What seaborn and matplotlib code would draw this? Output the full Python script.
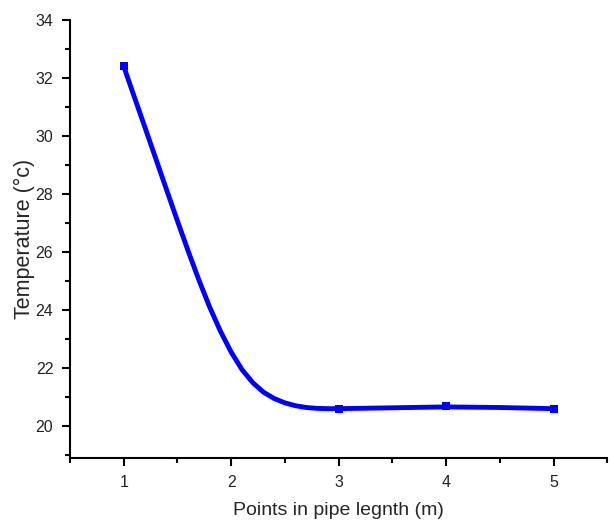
import matplotlib
matplotlib.use("Agg")
import matplotlib.pyplot as plt
from matplotlib.ticker import MultipleLocator
import pandas as pd
import seaborn as sns


# measured points (square markers)
points_x = [1, 3, 4, 5]
points_y = [32.4, 20.6, 20.7, 20.6]

# smooth curve
curve_x = [1.0, 1.1, 1.2, 1.3, 1.4, 1.5, 1.6, 1.7, 1.8, 1.9, 2.0, 2.1, 2.2, 2.3, 2.4,
           2.5, 2.6, 2.7, 2.8, 2.9, 3.0, 3.5, 4.0, 4.5, 5.0]
curve_y = [32.4, 31.33, 30.27, 29.2, 28.13, 27.07, 26.03, 25.03, 24.1, 23.27, 22.55,
           21.95, 21.5, 21.17, 20.95, 20.8, 20.7, 20.64, 20.61, 20.6, 20.6,
           20.63, 20.66, 20.64, 20.6]

x_label = "Points in pipe legnth (m)"
y_label = "Temperature (°c)"


#----------------------------------------------------------------------------------------------------
sns.set_theme(style="ticks")
plt.rcParams["font.family"] = ["Liberation Sans", "DejaVu Sans"]

points = pd.DataFrame({"x": points_x, "y": points_y})
curve = pd.DataFrame({"x": curve_x, "y": curve_y})

fig = plt.figure(figsize=(6.14, 5.24), dpi=100)
ax = fig.add_axes([0.114, 0.126, 0.875, 0.836])

sns.lineplot(data=curve, x="x", y="y", ax=ax, color="#0000ff", linewidth=3.5,
             solid_capstyle="butt", solid_joinstyle="round", sort=False)
sns.scatterplot(data=points, x="x", y="y", ax=ax, color="#0000ff", marker="s",
                s=40, linewidth=0, zorder=3)


#----------------------------------------------------------------------------------------------------
ax.set_xlim(0.5, 5.5)
ax.set_ylim(18.9, 34)
ax.xaxis.set_major_locator(MultipleLocator(1))
ax.xaxis.set_minor_locator(MultipleLocator(0.5))
ax.yaxis.set_major_locator(MultipleLocator(2))
ax.yaxis.set_minor_locator(MultipleLocator(1))

ax.tick_params(which="major", direction="out", length=6, width=1.5, labelsize=11.5,
               labelcolor="#222222", color="black", pad=6)
ax.tick_params(which="minor", direction="out", length=3.5, width=1.5, color="black")

for side in ["top", "right"]:
    ax.spines[side].set_visible(False)
for side in ["left", "bottom"]:
    ax.spines[side].set_linewidth(1.5)
    ax.spines[side].set_color("black")

ax.set_xlabel(x_label, fontsize=14, labelpad=9)
ax.set_ylabel(y_label, fontsize=15.5)
ax.yaxis.set_label_coords(-0.066, 0.5)

fig.savefig("out.png", dpi=100)
